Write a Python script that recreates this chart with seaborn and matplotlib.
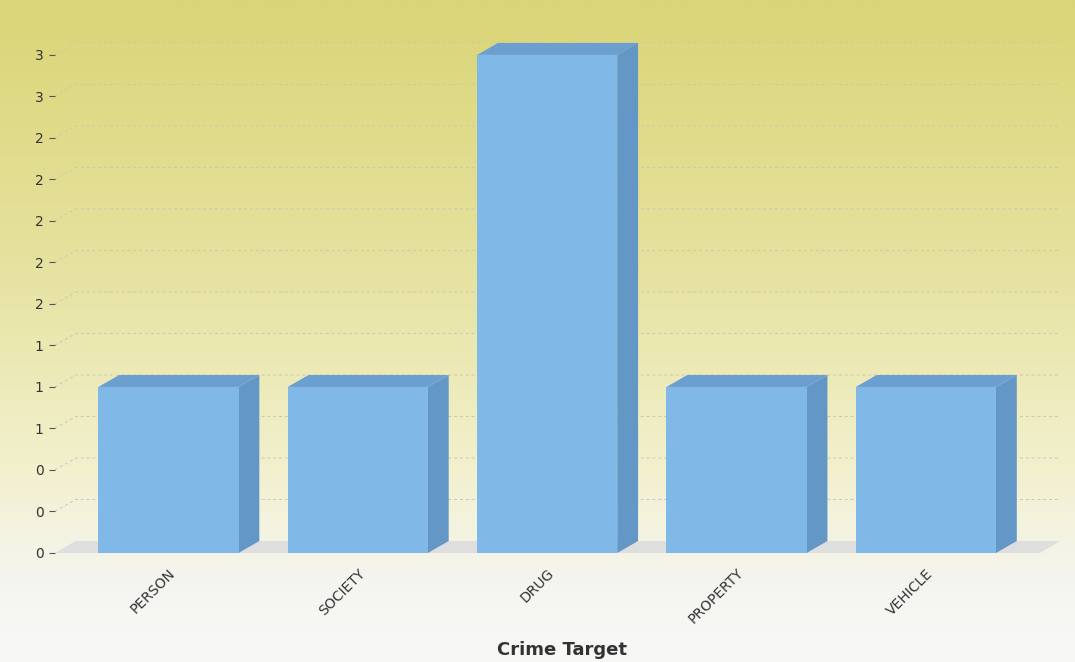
import numpy as np
import pandas as pd
import seaborn as sns
import matplotlib.pyplot as plt
from matplotlib.patches import Polygon
from matplotlib.colors import LinearSegmentedColormap
from matplotlib.ticker import FuncFormatter, MultipleLocator

targets = ['PERSON', 'SOCIETY', 'DRUG', 'PROPERTY', 'VEHICLE']
counts = [1, 1, 3, 1, 1]

df = pd.DataFrame({'Crime Target': targets, 'count': counts})

front_col = '#80b9e8'
side_col = '#6397c6'
top_col = '#6a9fcf'

sns.set_style('white')
plt.rcParams['font.family'] = ['DejaVu Sans']

fig = plt.figure(figsize=(10.75, 6.62), dpi=100)

# background gradient over the whole figure
bg = fig.add_axes([0, 0, 1, 1], zorder=-10)
grad = LinearSegmentedColormap.from_list(
    'bg', [(0, '#f8f8f7'), (0.12, '#f5f5f0'), (0.3, '#f2f0cc'),
           (0.6, '#e6e29f'), (1, '#dad576')])
bg.imshow(np.linspace(0, 1, 256).reshape(-1, 1), cmap=grad, aspect='auto',
          origin='lower', extent=[0, 1, 0, 1])
bg.axis('off')

ax = fig.add_axes([0.051, 0.1647, 0.916, 0.79])
ax.patch.set_alpha(0)

sns.barplot(data=df, x='Crime Target', y='count', color=front_col,
            width=0.74, saturation=1, linewidth=0, edgecolor='none',
            ax=ax, zorder=3)

xmin, xmax = -0.6, 4.6
ax.set_xlim(xmin, xmax)
dx, dy = 0.11, 0.072

# floor
ax.add_patch(Polygon([(xmin, 0), (xmax, 0), (xmax + dx, dy), (xmin + dx, dy)],
                     closed=True, facecolor='#dedede', edgecolor='none',
                     zorder=1, clip_on=False))

# dashed grid on back wall
for v in np.arange(0.25, 3.01, 0.25):
    ax.plot([xmin, xmin + dx, xmax + dx], [v, v + dy, v + dy],
            ls=(0, (3, 3)), lw=0.7, color='#c9c8b0', zorder=0, clip_on=False)

# side and top faces of bars
for p in list(ax.patches):
    if not hasattr(p, 'get_width') or p.get_height() <= 0:
        continue
    x0, w, h = p.get_x(), p.get_width(), p.get_height()
    x1 = x0 + w
    ax.add_patch(Polygon([(x1, 0), (x1 + dx, dy), (x1 + dx, h + dy), (x1, h)],
                         closed=True, facecolor=side_col, edgecolor='none',
                         zorder=2.5))
    ax.add_patch(Polygon([(x0, h), (x0 + dx, h + dy), (x1 + dx, h + dy), (x1, h)],
                         closed=True, facecolor=top_col, edgecolor='none',
                         zorder=2.5))

ax.yaxis.set_major_locator(MultipleLocator(0.25))
ax.yaxis.set_major_formatter(FuncFormatter(lambda v, pos: f'{v:.0f}'))
ax.set_ylim(0, 3.15)
ax.tick_params(axis='y', left=True, length=4, width=0.8, color='#555555',
               pad=4, labelsize=10, labelcolor='#333333')
ax.tick_params(axis='x', bottom=False, pad=6, labelsize=10, labelcolor='#333333')
plt.setp(ax.get_xticklabels(), rotation=45, ha='right', rotation_mode='anchor')

ax.set_ylabel('')
ax.set_xlabel('Crime Target', fontsize=13, fontweight='bold', color='#333333')
ax.xaxis.set_label_coords(0.515, -0.168)
sns.despine(ax=ax, left=True, bottom=True)

fig.savefig('out.png', dpi=100)
